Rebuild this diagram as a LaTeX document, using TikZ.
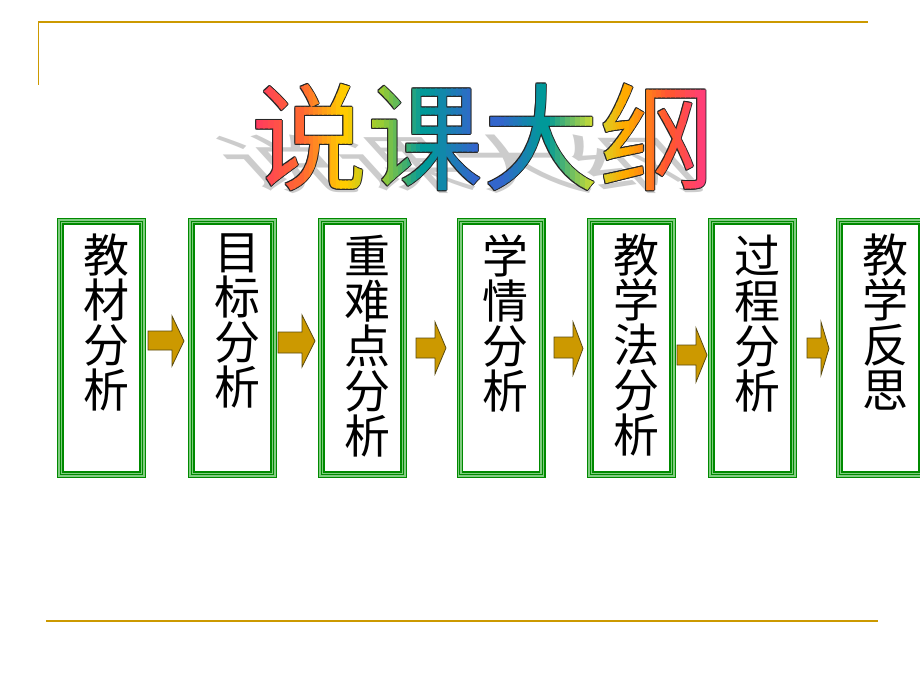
\documentclass[tikz,border=0pt]{standalone}
\usepackage{fontspec}
\newfontfamily\cjk{Noto Sans CJK SC}
\definecolor{gold}{HTML}{CC9900}
\definecolor{dkgreen}{HTML}{008A00}
\definecolor{ltgreen}{HTML}{80CC80}
\definecolor{arrowfill}{HTML}{CC9900}
\definecolor{arrowline}{HTML}{5A4A10}
\definecolor{cA}{HTML}{FF3366}
\definecolor{cB}{HTML}{FF6633}
\definecolor{cC}{HTML}{FFCC00}
\definecolor{cD}{HTML}{99CC33}
\definecolor{cE}{HTML}{009999}
\definecolor{cF}{HTML}{3366CC}
\definecolor{cG}{HTML}{CCDD33}
\definecolor{cH}{HTML}{FFAA00}
\definecolor{cI}{HTML}{FF5533}
\definecolor{cJ}{HTML}{FF3399}
\newcommand\blkarrow[7]{%
  \draw[arrowsty] (#1,#4) -- (#2,#4) -- (#2,#6) -- (#3,{(#6+#7)/2}) -- (#2,#7) -- (#2,#5) -- (#1,#5) -- cycle;}
\begin{document}
\begin{tikzpicture}[x=1pt,y=-1pt,
  boxsty/.style={draw=dkgreen, line width=1.3, double=ltgreen, double distance=4,
    minimum width=82.4, minimum height=253.4, inner sep=0, outer sep=0,
    postaction={draw=dkgreen, line width=1.2}},
  boxtext/.style={anchor=north, inner sep=0, align=center,
    font=\cjk\fontsize{46}{45}\selectfont},
  ttl/.style={anchor=south, inner sep=0, font=\cjk\fontsize{116}{120}\selectfont},
  arrowsty/.style={fill=arrowfill, draw=arrowline, line width=0.8, line join=miter}]
\useasboundingbox[fill=white] (0,0) rectangle (920,690);
% frame lines
\draw[gold, line width=2] (38,22.5) -- (868,22.5);
\draw[gold, line width=1.2] (38.6,22) -- (38.6,85);
\draw[gold, line width=2] (46,621) -- (878,621);
% title shadow
\node[ttl, text=black!20, cm={1,0,-0.5,0.55,(0,0)}] (shadow) at (485,194) {说课大纲};
% title outline
\foreach \dx/\dy [count=\k] in {1/0,-1/0,0/1,0/-1,0.7/0.7,-0.7/0.7,0.7/-0.7,-0.7/-0.7}
  \node[ttl, text=black!85] (ol\k) at ({483+\dx},{191+\dy}) {说课大纲};
% title gradient strips
\foreach \xa/\xb/\ca/\cb in {248/300/cA/cB, 300/345/cB/cC, 345/380/cC/cD, 380/425/cD/cE,
    425/478/cE/cF, 478/500/cF/cF, 500/545/cF/cE, 545/595/cE/cG, 595/625/cG/cH,
    625/670/cH/cI, 670/720/cI/cJ} {
  \foreach \i in {0,...,9} {
    \pgfmathsetmacro\xl{\xa+(\xb-\xa)*\i/10}
    \pgfmathsetmacro\xr{\xa+(\xb-\xa)*(\i+1)/10+0.6}
    \pgfmathtruncatemacro\p{100-100*\i/9}
    \begin{scope}
      \clip (\xl,60) rectangle (\xr,205);
      \node[ttl, text=\ca!\p!\cb] (ts-\xa-\i) at (483,191) {说课大纲};
    \end{scope}
  }
}
% boxes
\node[boxsty] (b1) at (101.5,348) {};
\node[boxsty] (b2) at (232.5,348) {};
\node[boxsty] (b3) at (362.5,348) {};
\node[boxsty] (b4) at (501,348) {};
\node[boxsty] (b5) at (631.5,348) {};
\node[boxsty] (b6) at (752.5,348) {};
\node[boxsty] (b7) at (880.5,348) {};
% texts
\node[boxtext] (t1) at (106,234) {教\\材\\分\\析};
\node[boxtext] (t2) at (237,234) {目\\标\\分\\析};
\node[boxtext] (t3) at (367,235) {重\\难\\点\\分\\析};
\node[boxtext] (t4) at (505.5,234) {学\\情\\分\\析};
\node[boxtext] (t5) at (636,234) {教\\学\\法\\分\\析};
\node[boxtext] (t6) at (757,235) {过\\程\\分\\析};
\node[boxtext] (t7) at (885,234) {教\\学\\反\\思};
% block arrows
\blkarrow{148}{172}{184}{331}{350}{316}{366}
\blkarrow{278}{302}{315}{332}{353}{315}{367}
\blkarrow{416}{435}{446}{338}{358}{322}{374}
\blkarrow{554}{573}{583}{337}{358}{322}{375}
\blkarrow{677}{696}{707}{345}{365}{328}{382}
\blkarrow{807}{821}{829}{338}{358}{322}{375}
\end{tikzpicture}
\end{document}
